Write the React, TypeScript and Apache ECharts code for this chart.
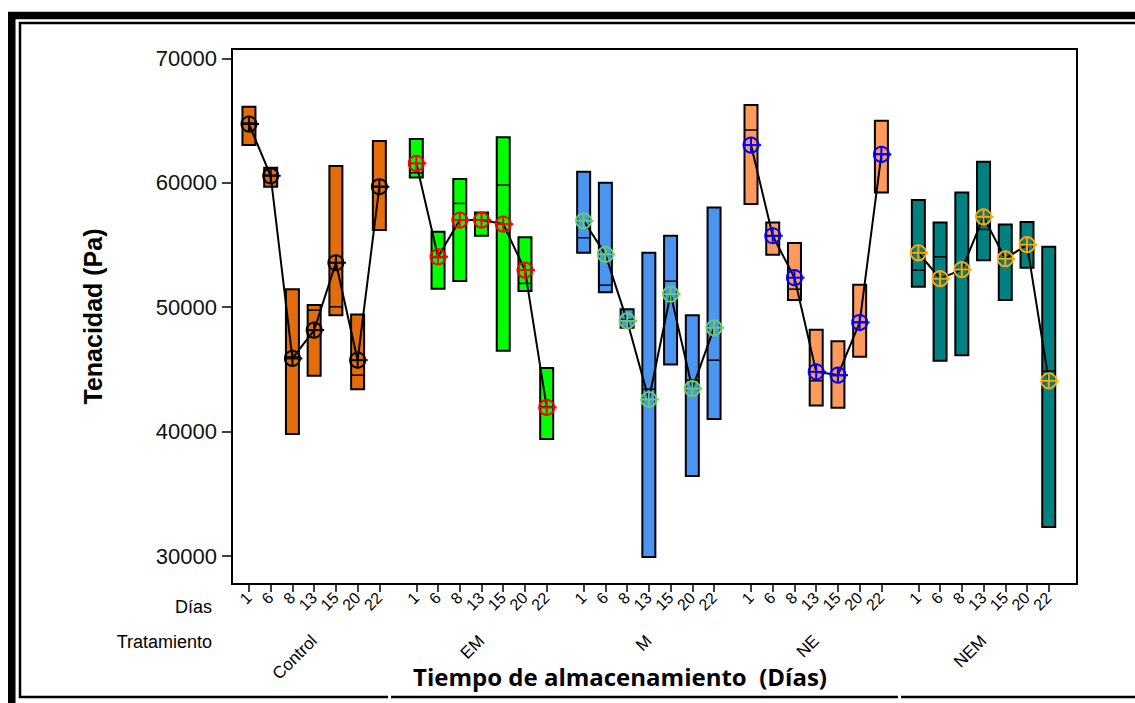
import React, { useEffect, useRef } from "react";
import * as echarts from "echarts";

const treatments = ["Control", "EM", "M", "NE", "NEM"];
const days = ["1", "6", "8", "13", "15", "20", "22"];
const yTicks = [30000, 40000, 50000, 60000, 70000];

const controlHigh = [66110, 61200, 51450, 50170, 61340, 49420, 63350];
const controlLow = [63030, 59680, 39800, 44480, 49360, 43410, 56200];
const controlMedian = [64800, 60600, 46000, 49760, 50030, 44540, 59700];
const controlMean = [64720, 60560, 45880, 48160, 53570, 45740, 59680];

const emHigh = [63510, 56060, 60300, 57600, 63650, 55610, 45120];
const emLow = [60430, 51480, 52100, 55740, 46490, 51300, 39400];
const emMedian = [60800, 54000, 58340, 57000, 59820, 51910, 42000];
const emMean = [61560, 54050, 57000, 57000, 56680, 52980, 41940];

const mHigh = [60880, 60000, 49840, 54370, 55740, 49360, 58010];
const mLow = [54370, 51190, 48340, 29930, 45400, 36440, 41020];
const mMedian = [55580, 51770, 49000, 43410, 52090, 44140, 45740];
const mMean = [56940, 54240, 48900, 42580, 51050, 43460, 48340];

const neHigh = [66250, 56810, 55150, 48180, 47270, 51800, 64980];
const neLow = [58290, 54210, 50570, 42100, 41910, 46010, 59220];
const neMedian = [64240, 55700, 51450, 44080, 44500, 48800, 62300];
const neMean = [63030, 55740, 52370, 44800, 44540, 48770, 62280];

const nemHigh = [58610, 56810, 59220, 61690, 56650, 56840, 54850];
const nemLow = [51640, 45690, 46140, 53780, 50570, 53160, 32340];
const nemMedian = [52980, 54050, 53000, 56250, 53900, 55000, 44860];
const nemMean = [54370, 52290, 53020, 57260, 53890, 55020, 44080];

const boxFill = ["#E46C0A", "#00FF00", "#4B95F0", "#FF9A5E", "#008080"];
const meanColor = ["#000000", "#FF0000", "#66CC66", "#0000FF", "#FFA500"];

const highs = [controlHigh, emHigh, mHigh, neHigh, nemHigh];
const lows = [controlLow, emLow, mLow, neLow, nemLow];
const medians = [controlMedian, emMedian, mMedian, neMedian, nemMedian];
const means = [controlMean, emMean, mMean, neMean, nemMean];

const GROUP_STEP = 7.7;
const pos = (g: number, i: number) => Math.round((g * GROUP_STEP + i) * 100) / 100;

const allPositions: number[] = [];
const evenPositions: number[] = [];
const oddPositions: number[] = [];
const posLabel: { p: number; label: string }[] = [];
treatments.forEach((_, g) =>
  days.forEach((d, i) => {
    const p = pos(g, i);
    allPositions.push(p);
    (i % 2 === 0 ? evenPositions : oddPositions).push(p);
    posLabel.push({ p, label: d });
  })
);
const groupCenters = treatments.map((_, g) => pos(g, 3));

const FONT = "'Liberation Sans', Arial, sans-serif";
const X_MIN = -0.78;
const X_MAX = 38.1;

const dayFormatter = (v: number) => {
  const f = posLabel.find((q) => Math.abs(q.p - v) < 0.01);
  return f ? f.label : "";
};

const dayLabelStyle = {
  rotate: 45,
  margin: 11,
  fontSize: 16,
  fontFamily: FONT,
  color: "#000",
  formatter: dayFormatter,
};

export default function App() {
  const ref = useRef<HTMLDivElement>(null);
  useEffect(() => {
    if (!ref.current) return;
    const chart = echarts.init(ref.current, undefined, { renderer: "svg" });

    const boxData: number[][] = [];
    const meanData: number[][] = [];
    treatments.forEach((_, g) =>
      days.forEach((_d, i) => {
        boxData.push([pos(g, i), lows[g][i], highs[g][i], medians[g][i], g]);
        meanData.push([pos(g, i), means[g][i], g]);
      })
    );

    const lineSeries = treatments.map((t, g) => ({
      name: t,
      type: "line",
      data: days.map((_d, i) => [pos(g, i), means[g][i]]),
      showSymbol: false,
      symbol: "none",
      lineStyle: { color: "#000", width: 2 },
      z: 3,
    }));

    const option: any = {
      animation: false,
      backgroundColor: "#fff",
      grid: {
        left: 232,
        right: 58,
        top: 49,
        bottom: 119,
        show: true,
        borderColor: "#000",
        borderWidth: 2,
        backgroundColor: "transparent",
      },
      xAxis: [
        {
          type: "value",
          min: X_MIN,
          max: X_MAX,
          position: "bottom",
          axisLine: { show: true, onZero: false, lineStyle: { color: "#000", width: 2 } },
          axisTick: {
            show: true,
            customValues: allPositions,
            length: 8,
            lineStyle: { color: "#000", width: 1.5 },
          },
          axisLabel: { ...dayLabelStyle, customValues: evenPositions },
          splitLine: { show: false },
        },
        {
          type: "value",
          min: X_MIN,
          max: X_MAX,
          position: "bottom",
          offset: 0,
          axisLine: { show: false, onZero: false },
          axisTick: { show: false },
          axisLabel: { ...dayLabelStyle, customValues: oddPositions },
          splitLine: { show: false },
        },
        {
          type: "value",
          min: X_MIN,
          max: X_MAX,
          position: "bottom",
          offset: 44,
          axisLine: { show: false, onZero: false },
          axisTick: { show: false },
          axisLabel: {
            customValues: groupCenters,
            rotate: 45,
            margin: 10,
            fontSize: 17,
            fontFamily: FONT,
            color: "#000",
            formatter: (v: number) => {
              const g = groupCenters.findIndex((c) => Math.abs(c - v) < 0.01);
              return g >= 0 ? treatments[g] : "";
            },
          },
          splitLine: { show: false },
        },
      ],
      yAxis: {
        type: "value",
        min: 27750,
        max: 70750,
        name: "Tenacidad (Pa)",
        nameLocation: "middle",
        nameRotate: 90,
        nameGap: 127,
        nameTextStyle: { fontSize: 25, fontWeight: "bold", fontFamily: FONT, color: "#000" },
        axisLine: { show: true, onZero: false, lineStyle: { color: "#000", width: 2 } },
        axisTick: { show: true, customValues: yTicks, length: 10, lineStyle: { color: "#000", width: 1.5 } },
        axisLabel: {
          customValues: yTicks,
          fontSize: 22,
          fontFamily: FONT,
          color: "#111",
          margin: 15,
          formatter: (v: number) => String(v),
        },
        splitLine: { show: false },
      },
      series: [
        {
          type: "custom",
          name: "cajas",
          xAxisIndex: 0,
          data: boxData,
          encode: { x: 0, y: [1, 2, 3] },
          z: 2,
          renderItem: (_params: any, api: any) => {
            const x = api.value(0);
            const g = api.value(4);
            const pHi = api.coord([x, api.value(2)]);
            const pLo = api.coord([x, api.value(1)]);
            const pMed = api.coord([x, api.value(3)]);
            const w = 13;
            return {
              type: "group",
              children: [
                {
                  type: "rect",
                  shape: { x: pHi[0] - w / 2, y: pHi[1], width: w, height: pLo[1] - pHi[1] },
                  style: { fill: boxFill[g], stroke: "#000", lineWidth: 2 },
                },
                {
                  type: "line",
                  shape: { x1: pHi[0] - w / 2, y1: pMed[1], x2: pHi[0] + w / 2, y2: pMed[1] },
                  style: { stroke: "#000", lineWidth: 1.5 },
                },
              ],
            };
          },
        },
        ...lineSeries,
        {
          type: "custom",
          name: "medias",
          xAxisIndex: 0,
          data: meanData,
          encode: { x: 0, y: 1 },
          z: 4,
          renderItem: (_params: any, api: any) => {
            const x = api.value(0);
            const g = api.value(2);
            const p = api.coord([x, api.value(1)]);
            const r = 7.5;
            const c = meanColor[g];
            return {
              type: "group",
              children: [
                {
                  type: "circle",
                  shape: { cx: p[0], cy: p[1], r },
                  style: { fill: "none", stroke: c, lineWidth: 2 },
                },
                {
                  type: "line",
                  shape: { x1: p[0], y1: p[1] - r, x2: p[0], y2: p[1] + r },
                  style: { stroke: c, lineWidth: 2 },
                },
                {
                  type: "line",
                  shape: { x1: p[0] - r, y1: p[1], x2: p[0] + r + 2.5, y2: p[1] },
                  style: { stroke: c, lineWidth: 2 },
                },
              ],
            };
          },
        },
      ],
      graphic: [
        {
          type: "rect",
          silent: true,
          shape: { x: 11.75, y: 15.5, width: 1200, height: 760 },
          style: { fill: "none", stroke: "#000", lineWidth: 7.5 },
        },
        {
          type: "rect",
          silent: true,
          shape: { x: 20, y: 23, width: 1200, height: 674 },
          style: { fill: "none", stroke: "#000", lineWidth: 2.5 },
        },
        {
          type: "rect",
          silent: true,
          shape: { x: 388, y: 694, width: 3, height: 6 },
          style: { fill: "#fff" },
        },
        {
          type: "rect",
          silent: true,
          shape: { x: 898, y: 694, width: 3, height: 6 },
          style: { fill: "#fff" },
        },
        {
          type: "text",
          x: 212,
          y: 607,
          style: { text: "Días", fontSize: 18, fontFamily: FONT, fill: "#000", align: "right", verticalAlign: "middle" },
        },
        {
          type: "text",
          x: 212,
          y: 642,
          style: { text: "Tratamiento", fontSize: 18, fontFamily: FONT, fill: "#000", align: "right", verticalAlign: "middle" },
        },
        {
          type: "text",
          x: 620,
          y: 676,
          style: {
            text: "Tiempo de almacenamiento  (Días)",
            fontSize: 24,
            fontWeight: "bold",
            fontFamily: "'Open Sans', sans-serif",
            fill: "#000",
            align: "center",
            verticalAlign: "middle",
          },
        },
      ],
    };

    chart.setOption(option);
    return () => chart.dispose();
  }, []);

  return (
    <div
      ref={ref}
      style={{ position: "fixed", left: 0, top: 0, width: 1135, height: 703, background: "#fff" }}
    />
  );
}
